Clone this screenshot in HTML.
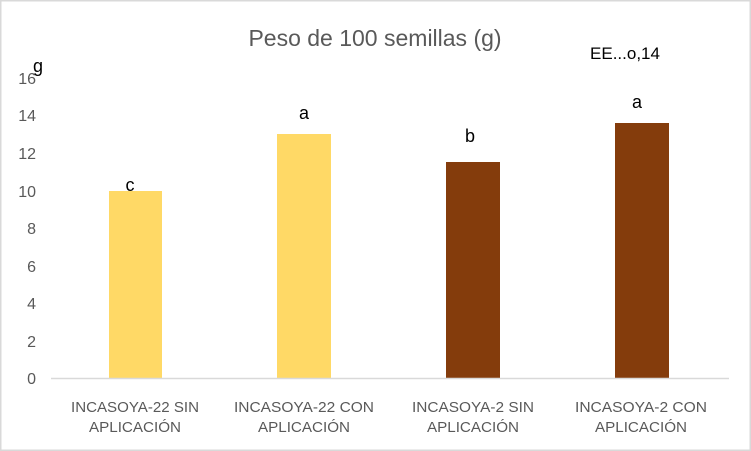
<!DOCTYPE html><html><head><style>body{margin:0}svg{display:block}</style></head><body>
<svg width="751" height="451" xmlns="http://www.w3.org/2000/svg" font-family="'Liberation Sans',sans-serif">
<rect x="0.5" y="0.5" width="750" height="450" fill="#fff" stroke="#d9d9d9" stroke-width="2"/>
<text x="375" y="46" font-size="23" fill="#595959" text-anchor="middle">Peso de 100 semillas (g)</text>
<text x="625" y="59" font-size="17" fill="#000" text-anchor="middle">EE...o,14</text>
<g font-size="16" fill="#595959" text-anchor="end">
<text x="36" y="384">0</text><text x="36" y="347">2</text><text x="36" y="309">4</text><text x="36" y="272">6</text><text x="36" y="234">8</text><text x="36" y="197">10</text><text x="36" y="159">12</text><text x="36" y="121">14</text><text x="36" y="84">16</text></g>
<text x="33" y="72" font-size="18" fill="#000">g</text>
<rect x="109" y="191" width="53" height="187" fill="#ffd966"/>
<rect x="277" y="134" width="54" height="244" fill="#ffd966"/>
<rect x="446" y="162" width="54" height="216" fill="#843c0c"/>
<rect x="615" y="123" width="54" height="255" fill="#843c0c"/>
<line x1="51" y1="378.5" x2="729" y2="378.5" stroke="#d9d9d9" stroke-width="1.5"/>
<g font-size="18" fill="#000" text-anchor="middle"><text x="130" y="191">c</text><text x="304" y="119">a</text><text x="470" y="142">b</text><text x="637" y="108">a</text></g>
<g font-size="15" fill="#595959" text-anchor="middle">
<text x="135" y="412" textLength="128" lengthAdjust="spacingAndGlyphs">INCASOYA-22 SIN</text><text x="135" y="432" textLength="92" lengthAdjust="spacingAndGlyphs">APLICACIÓN</text>
<text x="304" y="412" textLength="140" lengthAdjust="spacingAndGlyphs">INCASOYA-22 CON</text><text x="304" y="432" textLength="92" lengthAdjust="spacingAndGlyphs">APLICACIÓN</text>
<text x="473" y="412" textLength="122" lengthAdjust="spacingAndGlyphs">INCASOYA-2 SIN</text><text x="473" y="432" textLength="92" lengthAdjust="spacingAndGlyphs">APLICACIÓN</text>
<text x="641" y="412" textLength="132" lengthAdjust="spacingAndGlyphs">INCASOYA-2 CON</text><text x="641" y="432" textLength="92" lengthAdjust="spacingAndGlyphs">APLICACIÓN</text></g>
</svg></body></html>
